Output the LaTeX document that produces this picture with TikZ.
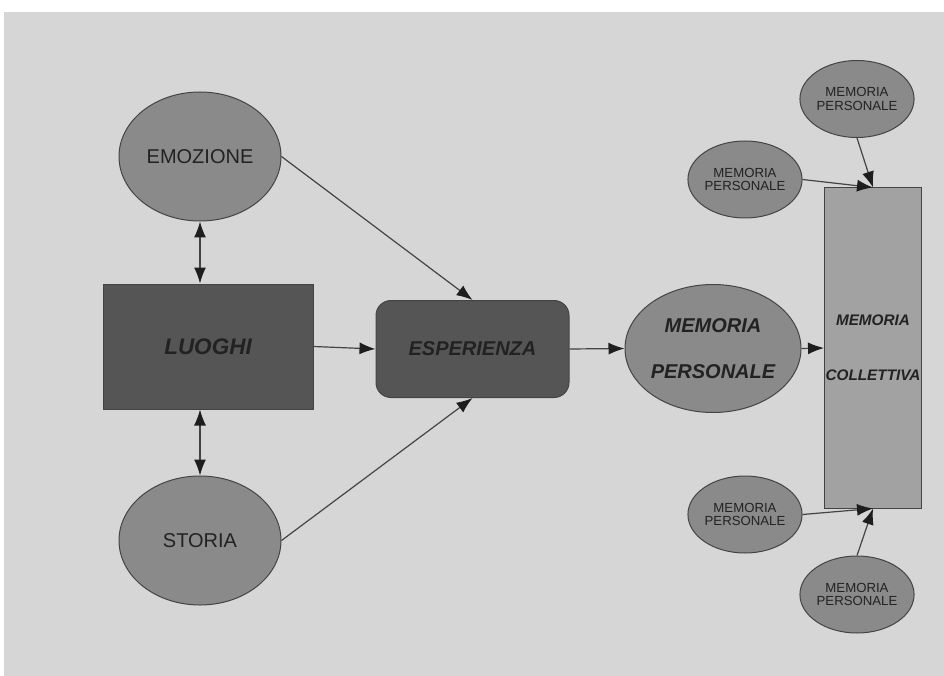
\documentclass[tikz,border=0pt]{standalone}
\usepackage{fontspec}
\setmainfont{Liberation Sans}
\usetikzlibrary{shapes.geometric,arrows.meta}
\definecolor{bg}{HTML}{D6D6D6}
\definecolor{ellfill}{HTML}{8A8A8A}
\definecolor{darkfill}{HTML}{555555}
\definecolor{lightfill}{HTML}{A2A2A2}
\definecolor{edge}{HTML}{444444}
\definecolor{tipc}{HTML}{1E1E1E}
\definecolor{txt}{HTML}{222222}
\tikzset{
  ell/.style={ellipse, draw=edge, line width=1pt, fill=ellfill, inner sep=0pt, text=txt, align=center},
  bigell/.style={ell, minimum width=162pt, minimum height=129pt, font=\fontsize{20}{22}\selectfont},
  smallell/.style={ell, minimum width=96pt, minimum height=77pt, font=\fontsize{13.2}{13.5}\selectfont},
  conn/.style={draw=edge, line width=1.2pt, -{Latex[length=16pt,width=12pt,color=tipc]}},
  biconn/.style={draw=edge, line width=1.2pt, {Latex[length=16pt,width=12pt,color=tipc]}-{Latex[length=16pt,width=12pt,color=tipc]}},
  boldit/.style={font=\fontsize{20}{22}\selectfont\bfseries\itshape, text=txt}
}
\begin{document}
\begin{tikzpicture}[x=1pt,y=-1pt]
\useasboundingbox (0,0) rectangle (944,676);
\fill[white] (0,0) rectangle (944,676);
\fill[bg] (4,12) rectangle (944,676);

\node[bigell] (emo) at (200,156.5) {EMOZIONE};
\node[bigell] (sto) at (200,540.5) {STORIA};
\node[draw=edge, line width=1pt, fill=darkfill, minimum width=210pt, minimum height=125pt, inner sep=0pt, boldit, font=\fontsize{22.5}{24}\selectfont\bfseries\itshape] (luo) at (208,346.5) {LUOGHI};
\node[draw=edge, line width=1pt, fill=darkfill, rounded corners=15pt, minimum width=193pt, minimum height=97pt, inner sep=0pt, boldit] (esp) at (472.5,349) {ESPERIENZA};
\node[ell, minimum width=160pt, minimum height=128pt, font=\fontsize{20}{46}\selectfont\bfseries\itshape] (mp) at (713,348.5) {MEMORIA\\PERSONALE};
\node[draw=edge, line width=1pt, fill=lightfill, minimum width=97pt, minimum height=320pt, inner sep=0pt, text=txt, align=center, font=\fontsize{15.3}{55}\selectfont\bfseries\itshape] (mc) at (873,348) {MEMORIA\\COLLETTIVA};

\node[smallell] (s1) at (857,99) {MEMORIA\\PERSONALE};
\node[smallell] (s2) at (745,179.5) {MEMORIA\\PERSONALE};
\node[smallell] (s3) at (745,514.5) {MEMORIA\\PERSONALE};
\node[smallell] (s4) at (857,594.5) {MEMORIA\\PERSONALE};

\draw[biconn] (emo.south) -- (luo.north -| emo.south);
\draw[biconn] (sto.north) -- (luo.south -| sto.north);
\draw[conn] (emo.east) -- (esp.north);
\draw[conn] (sto.east) -- (esp.south);
\draw[conn] (luo.east) -- (esp.west);
\draw[conn] (esp.east) -- (mp.west);
\draw[conn] (mp.east) -- (mc.west);
\draw[conn] (s1.south) -- (mc.north);
\draw[conn] (s2.east) -- (mc.north);
\draw[conn] (s3.east) -- (mc.south);
\draw[conn] (s4.north) -- (mc.south);
\end{tikzpicture}
\end{document}
